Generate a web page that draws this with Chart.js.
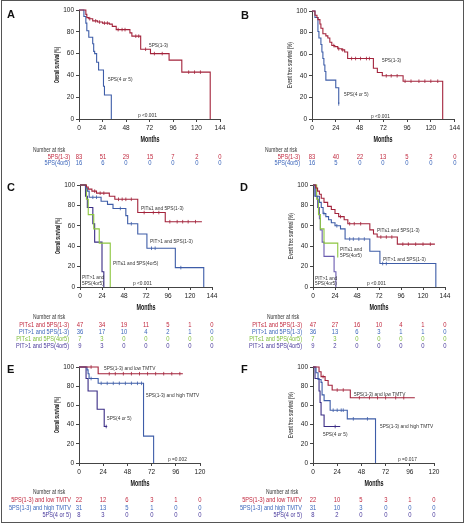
<!DOCTYPE html>
<html>
<head>
<meta charset="utf-8">
<script src="https://cdn.jsdelivr.net/npm/chart.js@4/dist/chart.umd.min.js"></script>
<style>
body { margin: 0; background: #fff; }
#fig { position: relative; width: 465px; height: 525px; overflow: hidden; background: #fff;
       font-family: 'Liberation Sans', Arial, sans-serif; }
#frame { position: absolute; left: 1px; top: 0; width: 461px; height: 521px; border: 1px solid #555; }
canvas { position: absolute; }
.t { position: absolute; white-space: nowrap; font-size: 6px; line-height: 1; color: #333; }
.risk { font-size: 6.5px; }
.xt { font-size: 9px; font-weight: bold; color: #111; }
.yt { font-size: 6.5px; color: #111; }
.letter { position: absolute; font: bold 11px 'Liberation Sans', Arial, sans-serif; line-height: 1; color: #111; }
</style>
</head>
<body>
<div id="fig"><div id="frame"></div></div>
<script>
// Tick labels
const monthTicksLong = [0, 24, 48, 72, 96, 120, 144];
const monthTicksShort = [0, 24, 48, 72, 96, 120];
const survTicks = [0, 20, 40, 60, 80, 100];

// Panel A: overall survival by 5PS
const aRedT = [0, 7, 8, 10, 14, 19, 24, 31, 34, 38, 52, 54, 63, 73, 92, 105, 134];
const aRedS = [100, 96, 93, 92, 90, 89, 88, 87, 85, 82, 79, 76, 64, 60, 54, 43, 0];
const aRedCens = [11, 17, 21, 26, 29, 40, 44, 47, 58, 61, 68, 77, 85, 112, 118, 124];
const aBlueT = [0, 5, 7, 8, 10, 14, 15, 16, 18, 20, 25, 26, 33];
const aBlueS = [100, 94, 88, 81, 75, 69, 62, 60, 52, 45, 30, 22, 0];
const aBlueCens = [];
const aRiskRed = [83, 51, 29, 15, 7, 2, 0];
const aRiskBlue = [16, 6, 0, 0, 0, 0, 0];

// Panel B: event free survival by 5PS
const bRedT = [0, 3, 5, 6, 8, 9, 11, 14, 16, 18, 20, 23, 26, 30, 33, 36, 62, 66, 71, 92, 132];
const bRedS = [100, 96, 94, 92, 88, 84, 79, 77, 75, 71, 68, 67, 65, 64, 62, 56, 47, 43, 40, 35, 0];
const bRedCens = [22, 27, 31, 40, 44, 49, 55, 58, 75, 80, 86, 94, 100, 108, 114, 120, 127];
const bBlueT = [0, 3, 6, 7, 9, 10, 11, 12, 13, 14, 24, 27];
const bBlueS = [100, 94, 81, 75, 69, 62, 56, 50, 44, 36, 29, 14];
const bBlueCens = [27];
const bRiskRed = [83, 40, 22, 13, 5, 2, 0];
const bRiskBlue = [16, 5, 0, 0, 0, 0, 0];

// Panel C: overall survival by PIT and 5PS
const cRedT = [0, 7, 9, 13, 18, 32, 38, 63, 93, 133];
const cRedS = [100, 98, 96, 94, 92, 89, 86, 73, 64, 64];
const cRedCens = [16, 22, 26, 42, 46, 50, 56, 70, 80, 86, 98, 106, 112, 118, 126];
const cBlueT = [0, 6, 8, 10, 23, 30, 36, 50, 52, 63, 73, 104, 135];
const cBlueS = [100, 97, 94, 88, 84, 81, 77, 70, 62, 52, 38, 19, 0];
const cBlueCens = [14, 18, 44, 56, 78, 82, 110];
const cGreenT = [0, 7, 9, 15, 21, 33];
const cGreenS = [100, 86, 71, 57, 43, 0];
const cPurpleT = [0, 6, 8, 14, 16, 24, 26];
const cPurpleS = [100, 89, 78, 62, 44, 15, 0];
const cRiskRed = [47, 34, 19, 11, 5, 1, 0];
const cRiskBlue = [36, 17, 10, 4, 2, 1, 0];
const cRiskGreen = [7, 3, 0, 0, 0, 0, 0];
const cRiskPurple = [9, 3, 0, 0, 0, 0, 0];

// Panel D: event free survival by PIT and 5PS
const dRedT = [0, 3, 5, 7, 9, 12, 16, 20, 24, 28, 34, 38, 62, 66, 70, 92, 133];
const dRedS = [100, 97, 94, 91, 87, 83, 79, 76, 72, 69, 66, 62, 56, 52, 49, 42, 42];
const dRedCens = [30, 40, 45, 52, 74, 80, 86, 98, 104, 112, 120, 128];
const dBlueT = [0, 2, 7, 9, 11, 14, 17, 20, 24, 30, 35, 62, 73, 134];
const dBlueS = [100, 89, 83, 78, 72, 69, 66, 63, 60, 57, 47, 35, 23, 0];
const dBlueCens = [12, 26, 40, 44, 50, 56, 76, 80];
const dGreenT = [0, 4, 6, 8, 12, 27];
const dGreenS = [100, 86, 71, 57, 43, 29];
const dPurpleT = [0, 3, 5, 7, 8, 10, 12, 23, 25];
const dPurpleS = [100, 89, 78, 67, 56, 44, 30, 15, 0];
const dRiskRed = [47, 27, 16, 10, 4, 1, 0];
const dRiskBlue = [36, 13, 6, 3, 1, 1, 0];
const dRiskGreen = [7, 3, 0, 0, 0, 0, 0];
const dRiskPurple = [9, 2, 0, 0, 0, 0, 0];

// Panel E: overall survival by 5PS and TMTV
const eRedT = [0, 19, 103];
const eRedS = [100, 93, 93];
const eRedCens = [12, 30, 36, 44, 52, 60, 68, 76, 84, 92, 100];
const eBlueT = [0, 8, 9, 10, 19, 64, 74];
const eBlueS = [100, 97, 93, 88, 83, 28, 0];
const eBlueCens = [12, 22, 28, 34, 40, 46, 52, 58, 62];
const ePurpleT = [0, 7, 9, 18, 25, 28];
const ePurpleS = [100, 88, 75, 56, 38, 38];
const ePurpleCens = [27];
const eRiskRed = [22, 12, 6, 3, 1, 0];
const eRiskBlue = [31, 13, 5, 1, 0, 0];
const eRiskPurple = [8, 3, 0, 0, 0, 0];

// Panel F: event free survival by 5PS and TMTV
const fRedT = [0, 6, 8, 12, 15, 19, 37, 101];
const fRedS = [100, 95, 90, 86, 81, 76, 68, 68];
const fRedCens = [10, 24, 30, 46, 56, 64, 72, 82, 90];
const fBlueT = [0, 3, 5, 8, 9, 11, 17, 34, 62];
const fBlueS = [100, 94, 87, 84, 71, 65, 55, 46, 0];
const fBlueCens = [20, 24, 28, 30, 40, 54];
const fPurpleT = [0, 2, 6, 7, 8, 11, 27];
const fPurpleS = [100, 88, 75, 63, 50, 38, 38];
const fPurpleCens = [22];
const fRiskRed = [22, 10, 5, 3, 1, 0];
const fRiskBlue = [31, 10, 3, 0, 0, 0];
const fRiskPurple = [8, 2, 0, 0, 0, 0];

const RED = '#a3233b', RED_T = '#c1283e';
const BLUE = '#3e5da8', BLUE_T = '#3b66bb';
const GREEN = '#8dc63f', GREEN_T = '#7fbf3a';
const PURPLE = '#3a2c85', PURPLE_T = '#4a3a9c';
const AXIS = '#444';

const fig = document.getElementById('fig');

// survival value of a step curve at time x
function stepAt(ts, ss, x) {
    let v = ss[0];
    for (let i = 0; i < ts.length; i++) {
        if (ts[i] <= x) v = ss[i];
    }
    return v;
}

// absolutely placed text, squeezed horizontally to look like the condensed face
function addText(cls, text, x, y, color, align, squeeze) {
    const el = document.createElement('div');
    el.className = cls;
    el.textContent = text;
    el.style.left = x + 'px';
    el.style.top = y + 'px';
    if (color) el.style.color = color;
    const tx = align === 'right' ? '-100%' : align === 'center' ? '-50%' : '0';
    const origin = align === 'right' ? 'right' : align === 'center' ? 'center' : 'left';
    el.style.transformOrigin = origin + ' center';
    el.style.transform = `translate(${tx}, -50%) scaleX(${squeeze || 0.82})`;
    fig.appendChild(el);
    return el;
}

function curve(t, s, cens, color) {
    return { t, s, cens: cens || [], color };
}

const panels = [
    {
        letter: ['A', 7, 9], box: [2, 2, 230, 146], area: [79, 10, 220, 119],
        ticks: monthTicksLong, yTitle: 'Overall survival (%)', yBold: true,
        curves: [curve(aRedT, aRedS, aRedCens, RED), curve(aBlueT, aBlueS, aBlueCens, BLUE)],
        notes: [['5PS(1-3)', 149, 45], ['5PS(4 or 5)', 108, 79], ['p <0.001', 138, 115]],
        head: [33, 150], labelRight: 70,
        rows: [['5PS(1-3)', aRiskRed, RED_T, 156.5], ['5PS(4or5)', aRiskBlue, BLUE_T, 163]]
    },
    {
        letter: ['B', 241, 10], box: [234, 2, 228, 146], area: [312, 11, 455, 119],
        ticks: monthTicksLong, yTitle: 'Event free survival (%)', yBold: false,
        curves: [curve(bRedT, bRedS, bRedCens, RED), curve(bBlueT, bBlueS, bBlueCens, BLUE)],
        notes: [['5PS(1-3)', 382, 60], ['5PS(4 or 5)', 344, 94], ['p <0.001', 371, 116]],
        head: [265, 150], labelRight: 300,
        rows: [['5PS(1-3)', bRiskRed, RED_T, 156.5], ['5PS(4or5)', bRiskBlue, BLUE_T, 163]]
    },
    {
        letter: ['C', 7, 182], box: [2, 172, 230, 140], area: [80, 185, 212, 287],
        ticks: monthTicksLong, yTitle: 'Overall survival (%)', yBold: true,
        curves: [curve(cRedT, cRedS, cRedCens, RED), curve(cBlueT, cBlueS, cBlueCens, BLUE),
                 curve(cGreenT, cGreenS, [], GREEN), curve(cPurpleT, cPurpleS, [], PURPLE)],
        notes: [['PIT\u22641 and 5PS(1-3)', 141, 208], ['PIT>1 and 5PS(1-3)', 150, 241],
                ['PIT\u22641 and 5PS(4or5)', 113, 263], ['PIT>1 and', 82, 277], ['5PS(4or5)', 82, 282.5],
                ['p <0.001', 133, 283]],
        head: [33, 317], labelRight: 69,
        rows: [['PIT\u22641 and 5PS(1-3)', cRiskRed, RED_T, 324.5], ['PIT>1 and 5PS(1-3)', cRiskBlue, BLUE_T, 331.5],
               ['PIT\u22641 and 5PS(4or5)', cRiskGreen, GREEN_T, 338.5], ['PIT>1 and 5PS(4or5)', cRiskPurple, PURPLE_T, 345.5]]
    },
    {
        letter: ['D', 240, 182], box: [234, 172, 228, 140], area: [313, 185, 445, 287],
        ticks: monthTicksLong, yTitle: 'Event free survival (%)', yBold: false,
        curves: [curve(dRedT, dRedS, dRedCens, RED), curve(dBlueT, dBlueS, dBlueCens, BLUE),
                 curve(dGreenT, dGreenS, [], GREEN), curve(dPurpleT, dPurpleS, [], '#6a5bb0')],
        notes: [['PIT\u22641 and 5PS(1-3)', 377, 230], ['PIT\u22641 and', 340, 249], ['5PS(4or5)', 340, 254.5],
                ['PIT>1 and 5PS(1-3)', 383, 259], ['PIT>1 and', 315, 278], ['5PS(4or5)', 315, 283],
                ['p <0.001', 367, 283]],
        head: [267, 317], labelRight: 302,
        rows: [['PIT\u22641 and 5PS(1-3)', dRiskRed, RED_T, 324.5], ['PIT>1 and 5PS(1-3)', dRiskBlue, BLUE_T, 331.5],
               ['PIT\u22641 and 5PS(4or5)', dRiskGreen, GREEN_T, 338.5], ['PIT>1 and 5PS(4or5)', dRiskPurple, PURPLE_T, 345.5]]
    },
    {
        letter: ['E', 7, 364], box: [2, 357, 230, 132], area: [79, 367, 200, 463],
        ticks: monthTicksShort, yTitle: 'Overall survival (%)', yBold: true,
        curves: [curve(eRedT, eRedS, eRedCens, RED), curve(eBlueT, eBlueS, eBlueCens, BLUE),
                 curve(ePurpleT, ePurpleS, ePurpleCens, PURPLE)],
        notes: [['5PS(1-3) and low TMTV', 104, 368], ['5PS(1-3) and high TMTV', 146, 395],
                ['5PS(4 or 5)', 107, 418], ['p =0.002', 168, 459]],
        head: [33, 492], labelRight: 71,
        rows: [['5PS(1-3) and low TMTV', eRiskRed, RED_T, 500], ['5PS(1-3) and high TMTV', eRiskBlue, BLUE_T, 507.5],
               ['5PS(4 or 5)', eRiskPurple, PURPLE_T, 514.5]]
    },
    {
        letter: ['F', 241, 364], box: [234, 357, 228, 132], area: [313, 367, 434, 463],
        ticks: monthTicksShort, yTitle: 'Event free survival (%)', yBold: false,
        curves: [curve(fRedT, fRedS, fRedCens, RED), curve(fBlueT, fBlueS, fBlueCens, BLUE),
                 curve(fPurpleT, fPurpleS, fPurpleCens, PURPLE)],
        notes: [['5PS(1-3) and low TMTV', 354, 394], ['5PS(1-3) and high TMTV', 380, 426],
                ['5PS(4 or 5)', 323, 434], ['p =0.017', 398, 459]],
        head: [266, 492], labelRight: 302,
        rows: [['5PS(1-3) and low TMTV', fRiskRed, RED_T, 500], ['5PS(1-3) and high TMTV', fRiskBlue, BLUE_T, 507.5],
               ['5PS(4 or 5)', fRiskPurple, PURPLE_T, 514.5]]
    }
];

const Y_W = 27;  // width kept for the y axis (ticks + title)
const X_H = 25;  // height kept for the x axis (ticks + title)

function makePanel(p) {
    const [bx, by, bw, bh] = p.box;
    const [l, t, r, b] = p.area;
    const cv = document.createElement('canvas');
    cv.width = bw;
    cv.height = bh;
    cv.style.left = bx + 'px';
    cv.style.top = by + 'px';
    fig.appendChild(cv);

    const datasets = [];
    p.curves.forEach(cu => {
        datasets.push({
            data: cu.t.map((x, i) => ({ x: x, y: cu.s[i] })),
            borderColor: cu.color, borderWidth: 1.1,
            pointRadius: 0, stepped: true, fill: false, clip: 3
        });
        if (cu.cens.length) {
            datasets.push({
                data: cu.cens.map(x => ({ x: x, y: stepAt(cu.t, cu.s, x) })),
                showLine: false, pointStyle: 'line', rotation: 90,
                pointRadius: 1.8, borderColor: cu.color, borderWidth: 0.8, clip: 3
            });
        }
    });

    const chart = new Chart(cv, {
        type: 'line',
        data: { datasets },
        options: {
            responsive: false,
            animation: false,
            devicePixelRatio: 1,
            events: [],
            layout: { padding: { left: l - bx - Y_W, top: t - by, right: bx + bw - r, bottom: by + bh - b - X_H } },
            plugins: { legend: { display: false }, tooltip: { enabled: false } },
            scales: {
                x: {
                    type: 'linear', min: p.ticks[0], max: p.ticks[p.ticks.length - 1],
                    afterFit: s => { s.height = X_H; },
                    afterBuildTicks: s => { s.ticks = p.ticks.map(v => ({ value: v })); },
                    ticks: { font: { family: "'Liberation Sans', Arial", size: 6.5 }, color: '#222', padding: 2, maxRotation: 0 },
                    grid: { drawOnChartArea: false, tickLength: 3, color: AXIS },
                    border: { color: AXIS, width: 1 }
                },
                y: {
                    min: 0, max: 100,
                    afterFit: s => { s.width = Y_W; },
                    afterBuildTicks: s => { s.ticks = survTicks.map(v => ({ value: v })); },
                    ticks: { font: { family: "'Liberation Sans', Arial", size: 6.5 }, color: '#222', padding: 2 },
                    grid: { drawOnChartArea: false, tickLength: 3, color: AXIS },
                    border: { color: AXIS, width: 1 }
                }
            }
        }
    });

    // panel letter
    const lt = document.createElement('div');
    lt.className = 'letter';
    lt.textContent = p.letter[0];
    lt.style.left = p.letter[1] + 'px';
    lt.style.top = p.letter[2] + 'px';
    fig.appendChild(lt);

    // axis titles in a condensed look
    const area = chart.chartArea;
    const midX = bx + (area.left + area.right) / 2;
    const midY = by + (area.top + area.bottom) / 2;
    addText('t xt', 'Months', midX, by + area.bottom + 19.5, '#111', 'center', 0.6);
    const yt = document.createElement('div');
    yt.className = 't yt';
    yt.textContent = p.yTitle;
    yt.style.left = (bx + area.left - 22.5) + 'px';
    yt.style.top = midY + 'px';
    yt.style.fontWeight = p.yBold ? 'bold' : 'normal';
    yt.style.transformOrigin = 'center center';
    yt.style.transform = `translate(-50%, -50%) rotate(-90deg) scaleX(${p.yBold ? 0.6 : 0.7})`;
    fig.appendChild(yt);

    // curve labels and p value
    p.notes.forEach(n => addText('t', n[0], n[1], n[2], '#333', 'left', 0.8));

    // number at risk table, values under the month ticks
    addText('t risk', 'Number at risk', p.head[0], p.head[1], '#333', 'left', 0.76);
    p.rows.forEach(row => {
        addText('t risk', row[0], p.labelRight, row[3], row[2], 'right', 0.86);
        row[1].forEach((v, i) => {
            const x = bx + chart.scales.x.getPixelForValue(p.ticks[i]);
            addText('t risk', String(v), x, row[3], row[2], 'center', 0.9);
        });
    });
}

panels.forEach(makePanel);
</script>
</body>
</html>
